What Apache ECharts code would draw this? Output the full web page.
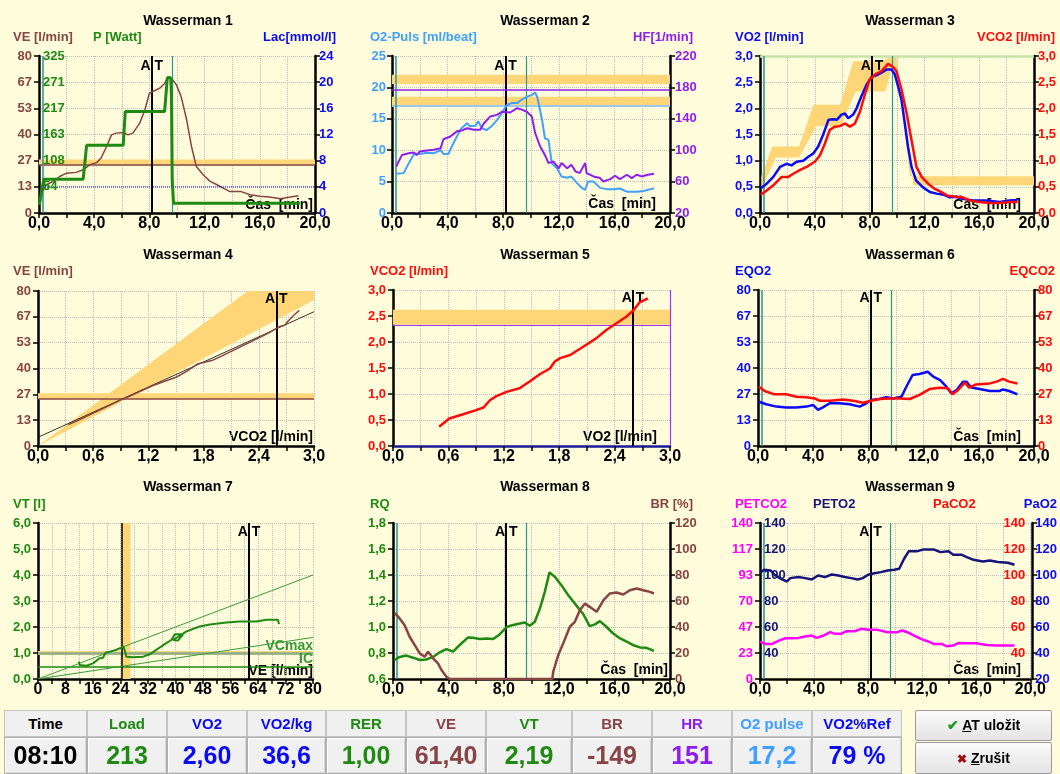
<!DOCTYPE html>
<html><head><meta charset="utf-8">
<script src="https://cdn.jsdelivr.net/npm/echarts@6/dist/echarts.min.js"></script>
<style>
html,body{margin:0;padding:0;background:#FFFCDB;width:1060px;height:774px;overflow:hidden;font-family:"Liberation Sans",Arial,sans-serif;}
#chart{position:absolute;left:0;top:0;width:1060px;height:774px;}
.cell{position:absolute;box-sizing:border-box;text-align:center;font-weight:bold;background:#F0F0F0;z-index:10;}
.hd{border:1px solid #C4C4C4;font-size:15px;line-height:25px;}
.vl{border:1px solid #B0B0B0;box-shadow:inset 1px 1px 0 #fff, inset -1px -1px 0 #d8d8d8;font-size:25px;line-height:35px;}
.btn{position:absolute;left:915px;width:137px;box-sizing:border-box;border:1px solid #9A9A9A;border-radius:2px;background:linear-gradient(#FAFAFA,#E4E4E4);text-align:center;font-weight:bold;font-size:14px;z-index:10;}
</style></head><body>
<div id="chart"></div>
<div id="tbl"></div>
<script>
// ===== DATA =====
const AT_TIME = 8.17;          // 08:10
const EX_START = 0.3, EX_END = 9.65;
const AT_VCO2 = 2.59, AT_VO2 = 2.60, AT_VE = 61.4;

// Wasserman 1
const W1_VE = [[0.05,4.2],[0.24,11],[0.53,14.4],[1.0,16],[1.5,18.6],[2.0,20.3],[2.7,20.7],[3.2,22],[3.7,24.6],[4.2,25.8],[4.5,28],[4.9,33.9],[5.25,39.8],[5.6,40.7],[6.1,41],[6.45,39.8],[6.8,40.7],[7.3,45.8],[7.67,52.5],[8.0,61],[8.4,62.4],[8.75,63.6],[9.1,66],[9.36,69.5],[9.6,68.6],[9.96,65.3],[10.3,59.3],[10.7,47.5],[11.05,33.9],[11.4,23.7],[11.9,19.5],[12.4,16.1],[12.9,14.4],[13.35,12.7],[13.8,11],[14.6,11],[15.3,9.3],[16.0,8.5],[16.7,8.1],[17.5,7.3],[18.2,8.1],[18.8,8.8]];
const W1_LOAD = [[0.02,17],[0.25,55],[0.35,70],[3.2,70],[3.45,140],[6.1,140],[6.25,210],[9.1,210],[9.3,280],[9.55,280],[9.6,240],[9.65,70],[9.75,20],[18.9,20]];
const W1_LAC_REF = [[0.3,4],[20,4]];
const VE_BAND = [24.3, 27.2];
const VE_REF = 24.6;

// Wasserman 2
const W2_O2P = [[0.31,6.25],[0.84,6.35],[1.2,7.9],[1.56,9.3],[2.0,9.4],[2.5,9.6],[3.0,9.5],[3.5,10],[3.7,9.4],[4.07,9.4],[4.3,10.6],[4.67,12.2],[5.0,13.5],[5.4,14.3],[5.6,13.8],[6.0,13.9],[6.2,14.6],[6.47,13.5],[6.8,13.2],[7.2,13.9],[7.55,14.8],[7.9,15.9],[8.26,17.2],[8.6,17.5],[9.0,17.5],[9.3,18],[9.7,18.5],[10.06,18.8],[10.3,19.2],[10.47,18.3],[10.8,14.8],[11.0,11.9],[11.26,11.65],[11.5,7.9],[11.85,7.15],[12.2,5.8],[12.6,5.6],[12.9,5.8],[13.3,4.8],[13.65,4.0],[13.9,3.7],[14.1,5.0],[14.5,5.0],[14.97,4.0],[15.45,3.8],[15.9,3.8],[16.4,3.9],[16.9,3.4],[17.6,3.4],[18.1,3.5],[18.6,3.8],[18.85,3.9]];
const W2_HF = [[0.31,79],[0.48,85.7],[0.72,94],[1.2,96],[1.56,97],[1.8,94],[2.0,98.4],[2.5,99.7],[3.0,100.5],[3.5,102.6],[3.7,114],[4.2,117.5],[4.67,124],[5.0,125],[5.4,128],[5.9,126],[6.35,126],[6.6,134],[7.07,143],[7.55,145],[7.9,149],[8.5,148],[9.0,153.5],[9.3,152],[9.7,149],[10.06,143],[10.3,121.7],[10.66,104.7],[11.0,94],[11.26,83.6],[11.6,85.7],[12.0,77],[12.2,83.6],[12.6,77],[12.9,81.4],[13.2,73],[13.5,70.8],[13.9,83.6],[14.0,70.8],[14.5,66.6],[14.97,64.5],[15.2,60.2],[15.7,63.2],[16.05,67.5],[16.4,63.2],[16.9,68.7],[17.25,64.5],[17.6,68.7],[17.96,66.6],[18.4,68.7],[18.85,70]];
const W2_HF_BAND = [184.4, 196];
const W2_O2P_BAND = [16.95, 18.5];
const W2_HF_REF = 177.6;
const W2_O2P_REF = 17;

// Wasserman 3
const W3_VO2 = [[0.07,0.475],[0.49,0.56],[0.97,0.69],[1.46,0.88],[1.94,0.94],[2.3,0.91],[2.67,0.98],[3.16,1.0],[3.5,1.07],[3.9,1.14],[4.25,1.27],[4.6,1.49],[5.0,1.78],[5.35,1.79],[5.6,1.78],[5.95,1.88],[6.2,1.9],[6.44,1.81],[6.8,1.88],[7.05,2.0],[7.4,2.23],[7.78,2.45],[8.14,2.6],[8.5,2.63],[8.87,2.68],[9.23,2.74],[9.6,2.74],[9.84,2.65],[10.08,2.42],[10.33,2.16],[10.57,1.71],[10.8,1.27],[11.06,0.88],[11.4,0.62],[11.9,0.49],[12.4,0.4],[12.9,0.37],[13.4,0.35],[13.85,0.3],[14.3,0.31],[14.8,0.27],[15.55,0.24],[16.5,0.24],[17.5,0.21],[18.2,0.24],[18.8,0.25]];
const W3_VCO2 = [[0.05,0.35],[0.49,0.43],[0.97,0.53],[1.58,0.69],[2.07,0.69],[2.43,0.75],[2.9,0.82],[3.4,0.88],[4.0,0.98],[4.37,1.1],[4.74,1.33],[5.1,1.59],[5.47,1.65],[5.83,1.66],[6.2,1.71],[6.56,1.65],[6.93,1.71],[7.3,1.94],[7.65,2.26],[8.0,2.55],[8.4,2.65],[8.87,2.71],[9.35,2.85],[9.67,2.8],[9.96,2.71],[10.33,2.36],[10.7,1.91],[11.06,1.39],[11.42,0.88],[11.8,0.69],[12.27,0.56],[12.76,0.46],[13.24,0.4],[13.7,0.33],[14.3,0.31],[14.8,0.3],[15.3,0.24],[16.0,0.21],[16.8,0.19],[17.5,0.19],[18.2,0.21],[18.8,0.21]];
const W3_BAND_HI = [[0.1,0.7],[0.9,1.27],[2.85,1.27],[3.9,2.07],[5.85,2.07],[6.8,2.9],[8.95,2.9],[9.55,2.98],[9.95,2.98],[10.95,0.7],[20,0.7]];
const W3_BAND_LO = [[0.1,0.45],[1.15,1.06],[2.85,1.06],[4.1,1.66],[5.85,1.66],[7.0,2.32],[9.15,2.32],[9.7,2.85],[9.95,2.7],[11.2,0.53],[20,0.53]];
const W3_VO2MAX_REF = 3.0;

// Wasserman 4 (x: VCO2, y: VE)
const W4_VE = [[0.33,11],[0.45,13.5],[0.6,17],[0.75,20.3],[0.9,23.8],[1.0,25.8],[1.1,28],[1.25,31.2],[1.4,33.8],[1.5,35.5],[1.62,38.6],[1.74,42.5],[1.76,41.5],[1.9,44.3],[2.0,46.5],[2.15,50],[2.3,53.5],[2.45,57],[2.55,59.5],[2.62,61.5],[2.68,62.3],[2.72,64.5],[2.78,67.5],[2.84,70]];
const W4_FIT = [[0,4.5],[3,69.3]];
const W4_WEDGE_HI = [[0,0],[2.28,80],[3,80]];
const W4_WEDGE_LO = [[0,0],[3,75.4]];

// Wasserman 5 (x: VO2, y: VCO2)
const W5_VCO2 = [[0.5,0.37],[0.61,0.53],[0.76,0.61],[0.9,0.69],[0.98,0.74],[1.05,0.88],[1.12,0.96],[1.23,1.04],[1.37,1.11],[1.48,1.24],[1.59,1.38],[1.7,1.49],[1.75,1.62],[1.81,1.69],[1.92,1.75],[2.06,1.91],[2.2,2.07],[2.31,2.23],[2.42,2.36],[2.53,2.49],[2.6,2.6],[2.67,2.76],[2.76,2.84]];
const W5_BAND = [2.33, 2.62];
const W5_REF_Y = 2.33, W5_REF_X = 3.0;

// Wasserman 6
const W6_EQO2 = [[0.07,22.7],[0.6,21.4],[1.33,20.2],[2.05,19.7],[2.78,19.8],[3.5,20.2],[4.0,21],[4.35,18.5],[4.7,19.8],[5.2,21.9],[5.9,21.9],[6.64,21.4],[7.37,20.2],[7.85,21.9],[8.2,23.6],[8.8,24.1],[9.3,25],[9.8,24.4],[10.4,25.3],[10.75,30.4],[11.2,36.4],[11.7,36.9],[12.3,38.1],[12.7,35.6],[13.2,33.8],[13.65,30.4],[14.0,27],[14.4,28.7],[14.85,33],[15.1,33],[15.45,30],[16.06,29.2],[16.8,28.2],[17.5,28.2],[17.75,29],[18.2,28.2],[18.8,26.5]];
const W6_EQCO2 = [[0.07,30.4],[0.48,28.2],[1.2,26.5],[2.05,26.5],[2.78,25.3],[3.5,25],[4.1,24.4],[4.47,23.2],[5.2,23.2],[6.16,23.9],[6.9,23.2],[7.6,22.2],[8.2,23.2],[8.8,24.1],[9.54,24.4],[10.26,24.4],[11.0,24.1],[11.7,26.2],[12.44,29.2],[13.16,29.9],[13.77,29.6],[14.1,26.5],[14.5,28.7],[15.0,32.6],[15.3,29.9],[15.8,31.6],[16.8,32.1],[17.3,33],[17.75,34.4],[18.2,33],[18.8,32.1]];

// Wasserman 7 (x: VE, y: VT)
const W7_VT = [[11.9,0.67],[12.1,0.54],[14.1,0.51],[16,0.6],[17.9,0.8],[18.9,0.82],[19.7,1.02],[20.85,1.05],[22.8,1.12],[24.9,1.25],[25.7,0.86],[27.6,0.84],[30.6,0.86],[32.5,0.95],[34.4,1.12],[37.3,1.38],[38.8,1.5],[39.8,1.72],[42.2,1.72],[40.7,1.48],[39.3,1.5],[43.2,1.83],[47,2.02],[50,2.1],[54.8,2.17],[58.7,2.21],[63.5,2.21],[66.4,2.28],[69.8,2.28],[70.1,2.11]];
const W7_DIAG_HI = [[0,0],[80,4.0]];
const W7_DIAG_LO = [[0,0],[80,1.6]];
const W7_VE_BAND = [24.3, 26.9];
const W7_VT_BAND = [0.93, 1.08];
const W7_VCMAX_REF = 0.99, W7_IC_REF = 0.46, W7_VE_REF = 24.4;

// Wasserman 8
const W8_RQ = [[0.12,0.746],[0.48,0.77],[0.96,0.78],[1.45,0.764],[1.93,0.746],[2.4,0.75],[2.9,0.77],[3.37,0.805],[3.86,0.83],[4.34,0.81],[4.8,0.86],[5.42,0.92],[5.78,0.917],[6.27,0.907],[6.75,0.912],[7.23,0.907],[7.7,0.943],[8.2,1.0],[8.67,1.015],[9.16,1.027],[9.5,1.035],[9.88,1.01],[10.24,1.04],[10.6,1.14],[10.96,1.27],[11.3,1.42],[11.7,1.385],[12.17,1.32],[12.65,1.245],[13.13,1.18],[13.73,1.1],[14.2,1.007],[14.58,1.02],[14.94,1.045],[15.42,1.0],[15.9,0.95],[16.4,0.912],[16.87,0.887],[17.35,0.86],[17.83,0.843],[18.3,0.84],[18.84,0.817]];
const W8_BR = [[0.12,50.9],[0.48,46.6],[0.84,41.4],[1.2,32.5],[1.57,26.1],[1.93,19.7],[2.29,17.1],[2.53,21],[2.9,15.9],[3.25,12],[3.5,6.9],[3.86,1.8],[4.1,0],[11.5,0],[11.57,5.6],[11.93,18.4],[12.29,27.4],[12.77,40.2],[13.13,44],[13.5,53],[13.86,58],[14.2,55.5],[14.7,51.7],[15.2,60.6],[15.66,65.8],[16.14,66.5],[16.63,65],[17.1,68.3],[17.6,69.6],[18.07,68.3],[18.55,67],[18.84,65.8]];

// Wasserman 9
const W9_PETO2 = [[0,101.7],[0.3,104],[0.78,103.5],[1.15,99.6],[1.63,96.6],[2.0,95],[2.24,97.6],[2.85,98.4],[3.34,97.6],[3.83,96.6],[4.3,99.6],[4.8,98.4],[5.3,100.4],[5.8,99.6],[6.27,98.4],[6.75,97.6],[7.24,96.6],[7.6,97.6],[8.0,100.2],[8.46,101.4],[8.95,102.2],[9.44,103.5],[9.93,104],[10.3,104.8],[10.66,112.5],[11.0,118.2],[11.6,118.2],[12.1,119.7],[12.85,119.7],[13.34,117.6],[13.95,118.2],[14.3,115.6],[14.9,115.6],[15.3,113.8],[15.8,111.7],[16.5,110.4],[17.0,111.2],[17.6,110],[18.34,109.4],[18.83,107.9]];
const W9_PETCO2 = [[0,33.6],[0.4,31.5],[0.9,31.5],[1.4,34.5],[1.88,36.6],[2.37,36.6],[2.85,36.9],[3.34,38.1],[3.83,39],[4.2,36.9],[4.7,39],[5.2,42],[5.54,40.5],[6.0,40.5],[6.4,42.9],[7.0,42.9],[7.5,45],[8.0,44.1],[8.7,44.1],[9.44,42],[10.17,42],[10.5,43.5],[10.9,42],[11.4,39],[11.9,36],[12.4,33.9],[12.85,31.5],[13.46,31.5],[13.8,29.4],[14.3,30],[14.7,32.4],[15.3,32.1],[16.0,32.1],[16.75,30.6],[17.5,30],[18.2,30],[18.83,30]];

// Table at AT
const TABLE_HEAD = ['Time','Load','VO2','VO2/kg','RER','VE','VT','BR','HR','O2 pulse','VO2%Ref'];
const TABLE_VALUES = ['08:10','213','2,60','36,6','1,00','61,40','2,19','-149','151','17,2','79 %'];

// ===== STYLE =====
const FONT = '"Liberation Sans", Arial, Helvetica, sans-serif';
const C = {ve:'#884444', green:'#1E8A12', blue:'#0A0AF5', lblue:'#40A0FF', purple:'#8E1EF0', red:'#FF0A0A',
  magenta:'#FF00FF', navy:'#14147A', teal:'#2A9595', band:'#FFD677', grid:'#BDBDBD', black:'#000'};
const TABLE_COLORS = [C.black, C.green, C.blue, C.blue, C.green, C.ve, C.green, C.ve, C.purple, C.lblue, C.blue];

const comma1 = v => (Math.round(v*10)/10).toFixed(1).replace('.', ',');
const fmtInt = v => String(Math.round(v));
const fmt1 = v => comma1(v);
const fmtTime = v => (Math.round(v) % 4 === 0 ? comma1(v) : '');
const fmt03 = v => { const k = Math.round(v*10); return k % 6 === 0 ? comma1(k/10) : ''; };
const fmtVE = v => (Math.round(v) % 8 === 0 ? String(Math.round(v)) : '');

function xAx(gi, o){
  return {type:'value', gridIndex:gi, min:o.min, max:o.max, interval:o.interval,
    axisLine:{onZero:false, lineStyle:{color:o.lineColor||'#000', width:2.5}},
    axisTick:{length:5, lineStyle:{color:'#000', width:1.5}},
    axisLabel:{margin:3, color:'#000', fontFamily:FONT, fontWeight:'bold', fontSize:16, formatter:o.fmt},
    splitLine:{show:true, lineStyle:{color:C.grid, width:1, type:'dotted'}}};
}
const tAx = gi => xAx(gi, {min:0, max:20, interval:2, fmt:fmtTime});
function yAx(gi, o){
  const showLine = o.line !== false;
  return {type:'value', gridIndex:gi, min:o.min, max:o.max, interval:o.interval, position:o.pos||'left', offset:o.offset||0,
    z:(o.z||0),
    axisLine:{show:showLine, onZero:false, lineStyle:{color:'#000', width:2.5}},
    axisTick:{show:showLine, length:5, lineStyle:{color:'#000', width:1.5}},
    axisLabel:{inside:!!o.inside, margin:(o.margin!==undefined?o.margin:7), color:o.color, fontFamily:FONT, fontWeight:'bold', fontSize:13,
      formatter:o.fmt, showMinLabel: !o.hideMin},
    splitLine:{show:!!o.split, lineStyle:{color:C.grid, width:1, type:'dotted'}}};
}
function ln(xi, yi, data, color, width, extra){
  return Object.assign({type:'line', xAxisIndex:xi, yAxisIndex:yi, data, symbol:'none', showSymbol:false,
    lineStyle:{color, width}, itemStyle:{color}, silent:true, animation:false, z:5}, extra||{});
}
const vline = (x, color, width) => ({xAxis:x, lineStyle:{color, width, type:'solid'}});
const hline = (y, color, width, type) => ({yAxis:y, lineStyle:{color, width, type:type||'solid'}});
const ml = data => ({silent:true, symbol:['none','none'], animation:false, label:{show:false}, emphasis:{disabled:true}, data});
const ma = data => ({silent:true, animation:false, z:1, itemStyle:{color:C.band, opacity:1}, emphasis:{disabled:true}, data});
const yBand = b => [{yAxis:b[0]},{yAxis:b[1]}];
const xBand = b => [{xAxis:b[0]},{xAxis:b[1]}];
function atMark(x, ytop, dy){
  return {silent:true, animation:false, symbol:'rect', symbolSize:1, itemStyle:{color:'rgba(0,0,0,0)'},
    label:{show:true, position:'inside', offset:[0, dy], formatter:'A T', color:'#000', fontFamily:FONT, fontWeight:'bold', fontSize:14},
    data:[{coord:[x, ytop]}]};
}
const timeLines = () => [vline(AT_TIME,'#000',2), vline(EX_START,C.teal,1.5), vline(EX_END,C.teal,1.2)];
function poly(xi, yi, upper, lower, color){
  return {type:'custom', xAxisIndex:xi, yAxisIndex:yi, silent:true, animation:false, z:1,
    data:[upper[0]],
    renderItem:(params, api) => {
      const pts = upper.concat(lower.slice().reverse()).map(p => api.coord(p));
      return {type:'polygon', shape:{points:pts}, style:{fill:color}};
    }};
}
function txt(text, x, y, color, size, align, z){
  return {type:'text', x, y, silent:true, z:(z===undefined?100:z),
    style:{text, fill:color, font:`bold ${size}px ${FONT}`, align:align||'left', textAlign:align||'left', verticalAlign:'middle', textVerticalAlign:'middle'}};
}

const option = {
  backgroundColor:'#FFFCDB',
  animation:false,
  grid:[
    {left:39, top:56, width:276, height:157},
    {left:392, top:56, width:278, height:157},
    {left:760, top:56, width:274, height:157},
    {left:38, top:291, width:276, height:155},
    {left:393, top:290, width:277, height:156},
    {left:758, top:290, width:276, height:156},
    {left:38, top:523, width:275, height:156},
    {left:393, top:523, width:277, height:156},
    {left:760, top:523, width:274, height:156}
  ],
  xAxis:[
    tAx(0), tAx(1), tAx(2),
    xAx(3,{min:0,max:3,interval:0.3,fmt:fmt03}),
    xAx(4,{min:0,max:3,interval:0.3,fmt:fmt03,lineColor:'#1A1A9A'}),
    tAx(5),
    xAx(6,{min:0,max:80,interval:4,fmt:fmtVE}),
    tAx(7), tAx(8)
  ],
  yAxis:[
    yAx(0,{min:0,max:80,interval:80/6,color:C.ve,fmt:fmtInt,split:true}),                                   //0 VE
    yAx(0,{min:0,max:325,interval:325/6,color:C.green,fmt:fmtInt,inside:true,line:false,hideMin:true,margin:4,z:10}), //1 P
    yAx(0,{min:0,max:24,interval:4,color:C.blue,fmt:fmtInt,pos:'right',margin:4}),                          //2 Lac
    yAx(1,{min:0,max:25,interval:5,color:C.lblue,fmt:fmtInt,split:true,margin:6}),                           //3 O2 puls
    yAx(1,{min:20,max:220,interval:40,color:C.purple,fmt:fmtInt,pos:'right',margin:5}),                       //4 HF
    yAx(2,{min:0,max:3,interval:0.5,color:C.blue,fmt:fmt1,split:true}),                                      //5 VO2
    yAx(2,{min:0,max:3,interval:0.5,color:C.red,fmt:fmt1,pos:'right',margin:4}),                             //6 VCO2
    yAx(3,{min:0,max:80,interval:80/6,color:C.ve,fmt:fmtInt,split:true}),                                    //7 VE
    yAx(4,{min:0,max:3,interval:0.5,color:C.red,fmt:fmt1,split:true}),                                       //8 VCO2
    yAx(5,{min:0,max:80,interval:80/6,color:C.blue,fmt:fmtInt,split:true}),                                  //9 EQO2
    yAx(5,{min:0,max:80,interval:80/6,color:C.red,fmt:fmtInt,pos:'right',margin:4}),                         //10 EQCO2
    yAx(6,{min:0,max:6,interval:1,color:C.green,fmt:fmt1,split:true}),                                       //11 VT
    yAx(7,{min:0.6,max:1.8,interval:0.2,color:C.green,fmt:fmt1,split:true}),                                 //12 RQ
    yAx(7,{min:0,max:120,interval:20,color:C.ve,fmt:fmtInt,pos:'right',margin:5}),                           //13 BR
    yAx(8,{min:0,max:140,interval:140/6,color:C.magenta,fmt:fmtInt,split:true}),                             //14 PETCO2
    yAx(8,{min:20,max:140,interval:20,color:C.navy,fmt:fmtInt,inside:true,line:false,hideMin:true,margin:4,z:10}),//15 PETO2
    yAx(8,{min:20,max:140,interval:20,color:C.red,fmt:fmtInt,pos:'right',inside:true,line:false,hideMin:true,margin:5,z:10}), //16 PaCO2
    yAx(8,{min:20,max:140,interval:20,color:C.blue,fmt:fmtInt,pos:'right',offset:2,margin:3})               //17 PaO2
  ],
  series:[
    // W1
    ln(0,0,W1_VE,C.ve,1.5,{markArea:ma([yBand(VE_BAND)]), markLine:ml([hline(VE_REF,C.ve,1.5)].concat(timeLines())), markPoint:atMark(AT_TIME,80,10)}),
    ln(0,2,W1_LAC_REF,C.blue,1,{lineStyle:{color:C.blue,width:1,type:'dotted'}}),
    ln(0,1,W1_LOAD,C.green,3,{z:6}),
    // W2
    ln(1,3,W2_O2P,C.lblue,2,{markArea:ma([yBand(W2_O2P_BAND)]), markLine:ml([hline(W2_O2P_REF,'#9CC8F0',2)].concat(timeLines())), markPoint:atMark(AT_TIME,25,10)}),
    ln(1,4,W2_HF,C.purple,2,{markArea:ma([yBand(W2_HF_BAND)]), markLine:ml([hline(W2_HF_REF,C.purple,1.5)])}),
    // W3
    poly(2,5,W3_BAND_HI,W3_BAND_LO,C.band),
    ln(2,5,W3_VO2,C.blue,2.5,{markLine:ml([hline(W3_VO2MAX_REF,'#C4E4A4',2.5)].concat(timeLines())), markPoint:atMark(AT_TIME,3,10)}),
    ln(2,6,W3_VCO2,C.red,2.5),
    // W4
    poly(3,7,W4_WEDGE_HI,W4_WEDGE_LO,C.band),
    ln(3,7,W4_FIT,'#000',0.8),
    ln(3,7,W4_VE,C.ve,1.5,{markArea:ma([yBand(VE_BAND)]), markLine:ml([hline(VE_REF,C.ve,1.5), vline(AT_VCO2,'#000',2)]), markPoint:atMark(AT_VCO2,80,8)}),
    // W5
    ln(4,8,W5_VCO2,C.red,2.5,{markArea:ma([yBand(W5_BAND)]), markLine:ml([hline(W5_REF_Y,'#9933FF',1.2), vline(W5_REF_X,'#9933FF',1.2), vline(AT_VO2,'#000',2)]), markPoint:atMark(AT_VO2,3,8)}),
    // W6
    ln(5,9,W6_EQO2,C.blue,2.5,{markLine:ml(timeLines()), markPoint:atMark(AT_TIME,80,8)}),
    ln(5,10,W6_EQCO2,C.red,2.5),
    // W7
    ln(6,11,W7_DIAG_HI,'#3A9A3A',1),
    ln(6,11,W7_DIAG_LO,'#3A9A3A',1),
    ln(6,11,W7_VT,C.green,2,{markArea:ma([xBand(W7_VE_BAND), yBand(W7_VT_BAND)]),
      markLine:ml([hline(W7_VCMAX_REF,'#8AAE8A',2.5), hline(W7_IC_REF,C.green,1.5), vline(W7_VE_REF,'#000',1.5), vline(AT_VE,'#000',2)]),
      markPoint:atMark(AT_VE,6,9)}),
    // W8
    ln(7,12,W8_RQ,C.green,2.5,{markLine:ml(timeLines()), markPoint:atMark(AT_TIME,1.8,9)}),
    ln(7,13,W8_BR,C.ve,2.5),
    // W9
    ln(8,15,W9_PETO2,C.navy,2.5,{markLine:ml(timeLines()), markPoint:atMark(AT_TIME,140,9)}),
    ln(8,14,W9_PETCO2,C.magenta,2.5)
  ],
  graphic:[
    txt('Wasserman 1',188,21,'#000',14,'center'), txt('Wasserman 2',545,21,'#000',14,'center'), txt('Wasserman 3',910,21,'#000',14,'center'),
    txt('Wasserman 4',188,255,'#000',14,'center'), txt('Wasserman 5',545,255,'#000',14,'center'), txt('Wasserman 6',910,255,'#000',14,'center'),
    txt('Wasserman 7',188,487,'#000',14,'center'), txt('Wasserman 8',545,487,'#000',14,'center'), txt('Wasserman 9',910,487,'#000',14,'center'),
    txt('VE [l/min]',13,37,C.ve,13), txt('P [Watt]',93,37,C.green,13), txt('Lac[mmol/l]',336,37,C.blue,13,'right'),
    txt('O2-Puls [ml/beat]',370,37,C.lblue,13), txt('HF[1/min]',693,37,C.purple,13,'right'),
    txt('VO2 [l/min]',735,37,C.blue,13), txt('VCO2 [l/min]',1055,37,C.red,13,'right'),
    txt('VE [l/min]',13,271,C.ve,13), txt('VCO2 [l/min]',370,271,C.red,13),
    txt('EQO2',735,271,C.blue,13), txt('EQCO2',1055,271,C.red,13,'right'),
    txt('VT [l]',13,504,C.green,13), txt('RQ',370,504,C.green,13), txt('BR [%]',693,504,C.ve,13,'right'),
    txt('PETCO2',735,504,C.magenta,13), txt('PETO2',813,504,C.navy,13), txt('PaCO2',933,504,C.red,13), txt('PaO2',1057,504,C.blue,13,'right'),
    txt('Čas  [min]',313,205,'#000',14,'right',0), txt('Čas  [min]',656,204,'#000',14,'right',0), txt('Čas  [min]',1021,205,'#000',14,'right',0),
    txt('VCO2 [l/min]',313,437,'#000',14,'right',0), txt('VO2 [l/min]',657,437,'#000',14,'right',0), txt('Čas  [min]',1021,437,'#000',14,'right',0),
    txt('VE [l/min]',313,671,'#000',14,'right',0), txt('VCmax',313,646,'#3A9A3A',14,'right',100), txt('IC',313,659,'#3A9A3A',14,'right',100),
    txt('Čas  [min]',668,670,'#000',14,'right',0), txt('Čas  [min]',1021,670,'#000',14,'right',0)
  ]
};
const chart = echarts.init(document.getElementById('chart'), null, {renderer:'canvas'});
chart.setOption(option);

// ===== TABLE =====
const COL_EDGES = [4, 87, 167, 247, 326, 406, 486, 572, 652, 732, 812, 902];
const tbl = document.getElementById('tbl');
let html = '';
TABLE_HEAD.forEach((h, i) => {
  const l = COL_EDGES[i], w = COL_EDGES[i+1] - COL_EDGES[i];
  html += `<div class="cell hd" style="left:${l}px;top:710px;width:${w}px;height:27px;color:${TABLE_COLORS[i]}">${h}</div>`;
  html += `<div class="cell vl" style="left:${l}px;top:737px;width:${w}px;height:37px;color:${TABLE_COLORS[i]}">${TABLE_VALUES[i]}</div>`;
});
html += `<div class="btn" style="top:710px;height:31px;line-height:29px;"><span style="color:#1E9A1E">✔</span> <u>A</u>T uložit</div>`;
html += `<div class="btn" style="top:742px;height:32px;line-height:30px;"><span style="color:#A01010;font-size:12px">✖</span> <u>Z</u>rušit</div>`;
tbl.innerHTML = html;
</script>
</body></html>
